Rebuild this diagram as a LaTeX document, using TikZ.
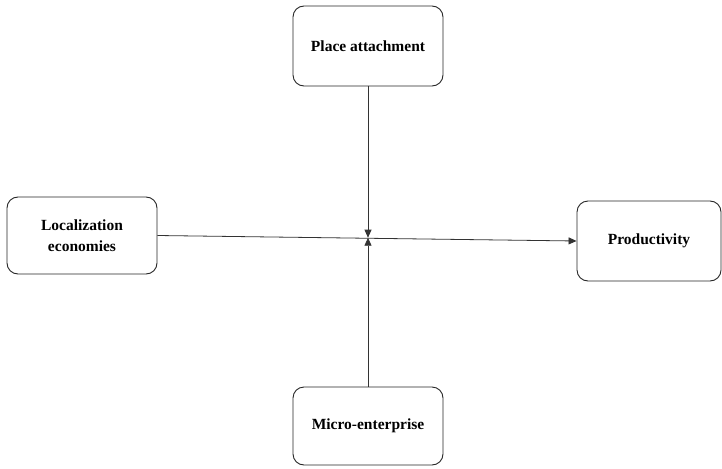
\documentclass[tikz,border=0pt]{standalone}
\usepackage{fontspec}
\setmainfont{Liberation Serif}
\usetikzlibrary{arrows.meta}
\begin{document}
\begin{tikzpicture}[x=1pt,y=-1pt,
  box/.style={draw=black!85, line width=0.9pt, rounded corners=11pt, align=center,
    font=\fontsize{15.5}{21}\selectfont\bfseries, inner sep=0pt},
  conn/.style={draw=black!80, line width=0.8pt},
  tip/.style={-{Triangle[length=8pt,width=7pt]}}]
\useasboundingbox (0,0) rectangle (722,468);
\node[box, minimum width=150pt, minimum height=80pt] (pa) at (368,46) {Place attachment};
\node[box, minimum width=150pt, minimum height=77pt] (le) at (82,235.5) {Localization\\economies};
\node[box, minimum width=144pt, minimum height=80pt] (pr) at (649,241) {Productivity};
\node[box, minimum width=150pt, minimum height=78pt] (me) at (368,426) {Micro-enterprise};
\coordinate (c) at (368,237.7);
\draw[conn, tip] (le.east) -- (pr.west);
\draw[conn, tip] (pa.south) -- (c);
\draw[conn, tip] (me.north) -- (c);
\end{tikzpicture}
\end{document}
